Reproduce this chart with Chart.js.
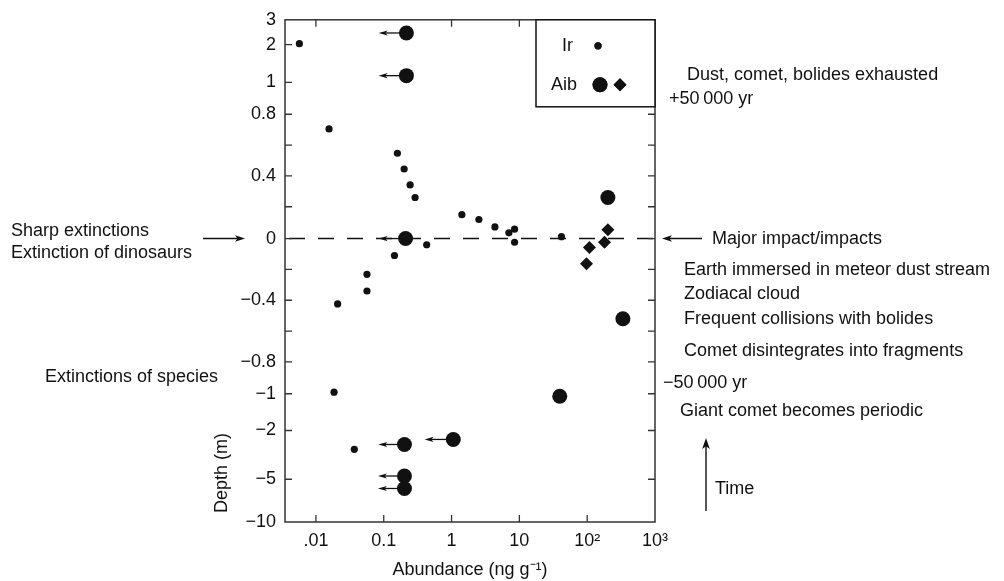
<!DOCTYPE html>
<html>
<head>
<meta charset="utf-8">
<script src="https://cdn.jsdelivr.net/npm/chart.js@4.4.1/dist/chart.umd.min.js"></script>
<style>
  html, body { margin: 0; padding: 0; background: #fff; }
  #wrap { width: 1004px; height: 581px; }
</style>
</head>
<body>
<div id="wrap"><canvas id="chart" width="1004" height="581"></canvas></div>
<script>
const INK = "#111";
const FONT = "'Liberation Sans', Arial, Helvetica, sans-serif";

// x axis (log abundance)
const xTickValues = [0.01, 0.1, 1, 10, 100, 1000];
const xTickLabels = [".01", "0.1", "1", "10", "10\u00b2", "10\u00b3"];
const xTopTickValues = [0.01, 1, 10];

// y axis (depth, broken scale)
const depthTicks = [3, 2, 1, 0.8, 0.6, 0.4, 0.2, 0, -0.2, -0.4, -0.6, -0.8, -1, -2, -5, -10];
const depthTickLabels = ["3", "2", "1", "0.8", "", "0.4", "", "0", "", "\u22120.4", "", "\u22120.8", "\u22121", "\u22122", "\u22125", "\u221210"];
// where each depth tick sits along the axis, 0 = bottom, 1 = top
const depthTickFrac = [1, 0.9505, 0.8752, 0.8119, 0.7505, 0.6891, 0.6277, 0.5644, 0.5030, 0.4416, 0.3802, 0.3188, 0.2554, 0.1822, 0.0851, 0];

// Ir (small dots)
const irAbundance = [0.0057, 0.0156, 0.159, 0.2, 0.245, 0.29, 1.42, 2.53, 4.36, 7.0, 8.5, 8.5, 41.7, 0.43, 0.144, 0.0566, 0.0566, 0.0209, 0.0185, 0.0368];
const irDepth = [2.04, 0.705, 0.547, 0.445, 0.342, 0.26, 0.15, 0.12, 0.073, 0.036, 0.059, -0.024, 0.012, -0.04, -0.11, -0.232, -0.34, -0.424, -0.99, -3.16];

// Aib (big circles)
const aibCircleAbundance = [0.216, 0.216, 0.21, 202, 336, 39.4, 1.06, 0.202, 0.202, 0.202];
const aibCircleDepth = [2.47, 1.18, 0, 0.26, -0.52, -1.07, -2.55, -2.86, -4.8, -6.08];

// Aib (diamonds)
const aibDiamondAbundance = [202, 108, 180, 97.7];
const aibDiamondDepth = [0.056, -0.058, -0.024, -0.163];

// upper-limit arrows on some Aib circles
const limitDepth = [2.47, 1.18, 0, -2.55, -2.86, -4.8, -6.08];
const limitFrom = [0.216, 0.216, 0.21, 1.06, 0.202, 0.202, 0.202];
const limitTo = [0.084, 0.084, 0.084, 0.40, 0.083, 0.082, 0.082];

function depthToFrac(v) {
  if (v >= depthTicks[0]) return 1;
  for (let i = 0; i < depthTicks.length - 1; i++) {
    const a = depthTicks[i], b = depthTicks[i + 1];
    if (v <= a && v >= b) {
      const t = (a - v) / (a - b);
      return depthTickFrac[i] + t * (depthTickFrac[i + 1] - depthTickFrac[i]);
    }
  }
  return 0;
}

function fracToDepth(f) {
  for (let i = 0; i < depthTickFrac.length - 1; i++) {
    const a = depthTickFrac[i], b = depthTickFrac[i + 1];
    if (f <= a && f >= b) {
      const t = (a - f) / (a - b);
      return depthTicks[i] + t * (depthTicks[i + 1] - depthTicks[i]);
    }
  }
  return f > 1 ? depthTicks[0] : depthTicks[depthTicks.length - 1];
}

class DepthScale extends Chart.LinearScale {
  static id = "depth";
  buildTicks() {
    return depthTicks.map(v => ({ value: v }));
  }
  getPixelForValue(value) {
    return this.getPixelForDecimal(depthToFrac(value));
  }
  getValueForPixel(pixel) {
    return fracToDepth(this.getDecimalForPixel(pixel));
  }
}
Chart.register(DepthScale);

function drawArrow(ctx, x1, y1, x2, y2, head, half) {
  const a = Math.atan2(y2 - y1, x2 - x1);
  const c = Math.cos(a), s = Math.sin(a);
  ctx.beginPath();
  ctx.moveTo(x1, y1);
  ctx.lineTo(x2 - c * head * 0.7, y2 - s * head * 0.7);
  ctx.stroke();
  ctx.beginPath();
  ctx.moveTo(x2, y2);
  ctx.lineTo(x2 - c * head + s * half, y2 - s * head - c * half);
  ctx.lineTo(x2 - c * head * 0.75, y2 - s * head * 0.75);
  ctx.lineTo(x2 - c * head - s * half, y2 - s * head + c * half);
  ctx.closePath();
  ctx.fill();
}

const decorations = {
  id: "decorations",
  afterDatasetsDraw(chart) {
    const ctx = chart.ctx;
    const area = chart.chartArea;
    const xs = chart.scales.x;
    const ys = chart.scales.y;
    const TICK = 7;

    ctx.save();
    ctx.strokeStyle = INK;
    ctx.fillStyle = INK;

    // dashed zero line
    const y0 = ys.getPixelForValue(0);
    ctx.lineWidth = 1.4;
    ctx.setLineDash([16, 13]);
    ctx.beginPath();
    ctx.moveTo(area.left + 4, y0);
    ctx.lineTo(area.right, y0);
    ctx.stroke();
    ctx.setLineDash([]);

    // upper-limit arrows
    ctx.lineWidth = 1.3;
    limitDepth.forEach((d, i) => {
      const y = ys.getPixelForValue(d);
      const x1 = xs.getPixelForValue(limitFrom[i]) - 7;
      const x2 = xs.getPixelForValue(limitTo[i]);
      drawArrow(ctx, x1, y, x2, y, 9, 2.6);
    });

    // frame
    ctx.lineWidth = 1.5;
    ctx.strokeStyle = "#333";
    ctx.strokeRect(area.left, area.top, area.right - area.left, area.bottom - area.top);

    // inward tick marks
    ctx.lineWidth = 1.3;
    ctx.beginPath();
    depthTicks.forEach(v => {
      if (v === 3 || v === -10) return;
      const y = ys.getPixelForValue(v);
      ctx.moveTo(area.left, y);
      ctx.lineTo(area.left + TICK, y);
      ctx.moveTo(area.right, y);
      ctx.lineTo(area.right - TICK, y);
    });
    xTickValues.forEach(v => {
      if (v >= 1000) return;
      const x = xs.getPixelForValue(v);
      ctx.moveTo(x, area.bottom);
      ctx.lineTo(x, area.bottom - TICK);
    });
    xTopTickValues.forEach(v => {
      const x = xs.getPixelForValue(v);
      ctx.moveTo(x, area.top);
      ctx.lineTo(x, area.top + TICK);
    });
    ctx.stroke();

    // legend box
    const lx = 536, ly = area.top, lw = area.right - 536, lh = 87;
    ctx.fillStyle = "#fff";
    ctx.fillRect(lx, ly, lw, lh);
    ctx.strokeStyle = INK;
    ctx.lineWidth = 1.5;
    ctx.strokeRect(lx, ly, lw, lh);
    ctx.fillStyle = INK;
    ctx.font = "18px " + FONT;
    ctx.textBaseline = "middle";
    ctx.textAlign = "left";
    ctx.fillText("Ir", 562, ly + 26);
    ctx.fillText("Aib", 551, ly + 65);
    const dot = chart.data.datasets;
    Chart.helpers.drawPoint(ctx, { pointStyle: "circle", radius: 3.6, rotation: 0, borderWidth: 0 }, 598, ly + 26);
    ctx.fill();
    Chart.helpers.drawPoint(ctx, { pointStyle: "circle", radius: 7.5, rotation: 0, borderWidth: 0 }, 600, ly + 65);
    ctx.fill();
    Chart.helpers.drawPoint(ctx, { pointStyle: "rectRot", radius: 6.5, rotation: 0, borderWidth: 0 }, 620, ly + 65);
    ctx.fill();

    // side notes
    ctx.font = "18px " + FONT;
    ctx.fillText("Sharp extinctions", 11, 231);
    ctx.fillText("Extinction of dinosaurs", 11, 253);
    ctx.fillText("Extinctions of species", 45, 377);
    ctx.fillText("Dust, comet, bolides exhausted", 687, 75);
    ctx.fillText("+50\u2009000 yr", 669, 99);
    ctx.fillText("Major impact/impacts", 712, y0);
    ctx.fillText("Earth immersed in meteor dust stream", 684, 270);
    ctx.fillText("Zodiacal cloud", 684, 294);
    ctx.fillText("Frequent collisions with bolides", 684, 319);
    ctx.fillText("Comet disintegrates into fragments", 684, 351);
    ctx.fillText("\u221250\u2009000 yr", 663, 383);
    ctx.fillText("Giant comet becomes periodic", 680, 411);
    ctx.fillText("Time", 715, 489);

    ctx.lineWidth = 1.4;
    drawArrow(ctx, 203, y0, 245, y0, 10, 3.2);
    drawArrow(ctx, 702, y0, 662, y0, 10, 3.2);
    drawArrow(ctx, 706, 511, 706, 438, 11, 3.8);

    // depth title, set low on the axis as in the figure
    ctx.save();
    ctx.translate(222, 473);
    ctx.rotate(-Math.PI / 2);
    ctx.textAlign = "center";
    ctx.fillText("Depth (m)", 0, 0);
    ctx.restore();

    ctx.restore();
  }
};

new Chart(document.getElementById("chart"), {
  type: "scatter",
  data: {
    datasets: [
      {
        label: "Ir",
        data: irAbundance.map((x, i) => ({ x: x, y: irDepth[i] })),
        pointStyle: "circle",
        pointRadius: 3.6,
        backgroundColor: INK,
        borderWidth: 0
      },
      {
        label: "Aib",
        data: aibCircleAbundance.map((x, i) => ({ x: x, y: aibCircleDepth[i] })),
        pointStyle: "circle",
        pointRadius: 7.5,
        backgroundColor: INK,
        borderWidth: 0
      },
      {
        label: "Aib",
        data: aibDiamondAbundance.map((x, i) => ({ x: x, y: aibDiamondDepth[i] })),
        pointStyle: "rectRot",
        pointRadius: 6.5,
        backgroundColor: INK,
        borderWidth: 0
      }
    ]
  },
  options: {
    responsive: false,
    animation: false,
    events: [],
    layout: { padding: { left: 0, top: 17, right: 349, bottom: 0 } },
    plugins: {
      legend: { display: false },
      tooltip: { enabled: false }
    },
    scales: {
      x: {
        type: "logarithmic",
        min: 0.0035,
        max: 1000,
        afterBuildTicks: scale => {
          scale.ticks = xTickValues.map(v => ({ value: v }));
        },
        afterFit: scale => {
          scale.height = 59;
        },
        grid: { display: false, drawTicks: false },
        border: { display: false },
        ticks: {
          autoSkip: false,
          maxRotation: 0,
          padding: 8,
          color: INK,
          font: { family: FONT, size: 18 },
          callback: (v, i) => xTickLabels[i]
        },
        title: {
          display: true,
          text: "Abundance (ng g\u207b\u00b9)",
          color: INK,
          font: { family: FONT, size: 18 },
          padding: { top: 0, bottom: 0 }
        }
      },
      y: {
        type: "depth",
        min: -10,
        max: 3,
        afterFit: scale => {
          scale.width = 285;
        },
        grid: { display: false, drawTicks: false },
        border: { display: false },
        ticks: {
          autoSkip: false,
          padding: 9,
          color: INK,
          font: { family: FONT, size: 18 },
          callback: (v, i) => depthTickLabels[i]
        }
      }
    }
  },
  plugins: [decorations]
});
</script>
</body>
</html>
